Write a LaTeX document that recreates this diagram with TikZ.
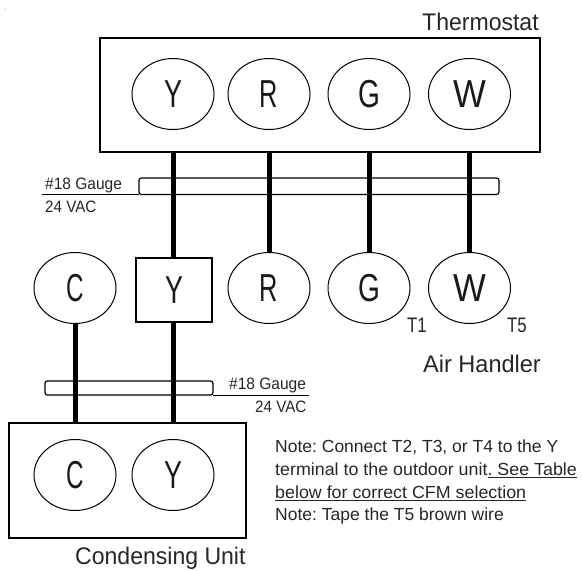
\documentclass[tikz,border=0pt]{standalone}
\usepackage{fontspec}
\usepackage{graphicx}
\setmainfont{Liberation Sans}
\newcommand\sx[2]{\scalebox{#1}[1]{#2}}
\newcommand\ulbox[2]{\setbox0=\hbox{#2}\rlap{\rule[-2.6pt]{\wd0}{#1}}\box0}
\usetikzlibrary{shapes.geometric}
\tikzset{
  term/.style={draw=black,line width=1pt,ellipse,minimum width=82pt,minimum height=71pt,inner sep=0pt,font=\fontsize{39}{39}\selectfont,text=black!90},
  unitbox/.style={draw=black,line width=2.2pt,inner sep=0pt,anchor=north west},
  wire/.style={draw=black,line width=5pt},
  cable/.style={draw=black,line width=1.2pt,rounded corners=2.5pt},
  lead/.style={draw=black,line width=1pt},
  lab/.style={inner sep=0pt,anchor=base west,font=\fontsize{16.5}{16.5}\selectfont,text=black!85},
  biglab/.style={inner sep=0pt,anchor=base west,font=\fontsize{24}{24}\selectfont,text=black!85},
  notelab/.style={inner sep=0pt,anchor=base west,font=\fontsize{17.5}{17.5}\selectfont\frenchspacing,text=black!85}
}
\begin{document}
\begin{tikzpicture}[x=1pt,y=-1pt]
\useasboundingbox (0,0) rectangle (582,571);
\fill[black!60] (5,9) circle (0.5);
% units
\node[unitbox,minimum width=440pt,minimum height=114pt] (thermo) at (99,37) {};
\node[unitbox,minimum width=237pt,minimum height=115pt] (cond) at (8,422) {};
% thermostat terminals
\node[term] (tY) at (173,94) {\sx{.69}{Y}};
\node[term] (tR) at (269,94) {\sx{.65}{R}};
\node[term] (tG) at (369,94) {\sx{.72}{G}};
\node[term] (tW) at (469.5,94) {\sx{.89}{W}};
% air handler terminals
\node[term] (aC) at (75,288) {\sx{.62}{C}};
\node[draw=black,line width=1.5pt,minimum width=76pt,minimum height=64pt,inner sep=0pt,font=\fontsize{39}{39}\selectfont,text=black!90] (aY) at (174,290) {\sx{.69}{Y}};
\node[term] (aR) at (269,288) {\sx{.65}{R}};
\node[term] (aG) at (369,288) {\sx{.72}{G}};
\node[term] (aW) at (469.5,288) {\sx{.89}{W}};
% condensing terminals
\node[term] (cC) at (75,475) {\sx{.62}{C}};
\node[term] (cY) at (173,475) {\sx{.69}{Y}};
% wires
\draw[wire] (tY.south |- thermo.south) -- (tY.south |- aY.north);
\draw[wire] (tR.south |- thermo.south) -- (aR.north);
\draw[wire] (tG.south |- thermo.south) -- (aG.north);
\draw[wire] (tW.south |- thermo.south) -- (aW.north);
\draw[wire] (aC.south) -- (aC.south |- cond.north);
\draw[wire] (aY.south -| cY.north) -- (cY.north |- cond.north);
% cables
\draw[cable] (139,178) rectangle (499,194.5);
\coordinate (c1a) at (42,194.5);
\coordinate (c1b) at (139,194.5);
\draw[lead] (c1a) -- (c1b);
\draw[cable] (45,381) rectangle (213,395);
\coordinate (c2a) at (213,395);
\coordinate (c2b) at (309,395);
\draw[lead] (c2a) -- (c2b);
% labels
\node[lab] (g1) at (45,189) {\sx{.94}{\#18 Gauge}};
\node[lab] (v1) at (45,212) {\sx{.92}{24 VAC}};
\node[lab] (g2) at (229,389) {\sx{.94}{\#18 Gauge}};
\node[lab] (v2) at (255,412) {\sx{.92}{24 VAC}};
\node[lab,font=\fontsize{21}{21}\selectfont] (t1) at (407,332) {\sx{.8}{T1}};
\node[lab,font=\fontsize{21}{21}\selectfont] (t5) at (507,332) {\sx{.8}{T5}};
\node[biglab] (lt) at (422,30) {\sx{.96}{Thermostat}};
\node[biglab] (la) at (423,372) {\sx{.98}{Air Handler}};
\node[biglab] (lc) at (75,564) {\sx{.96}{Condensing Unit}};
\node[notelab] (n1) at (275,452) {\sx{1.0}{Note: Connect T2, T3, or T4 to the Y}};
\node[notelab] (n2) at (275,475) {\sx{1.02}{terminal to the outdoor unit\ulbox{1.1pt}{. See Table}}};
\node[notelab] (n3) at (275,498) {\sx{1.02}{\ulbox{1.1pt}{below for correct CFM selection}}};
\node[notelab] (n4) at (275,520) {\sx{1.0}{Note: Tape the T5 brown wire}};
\end{tikzpicture}
\end{document}
